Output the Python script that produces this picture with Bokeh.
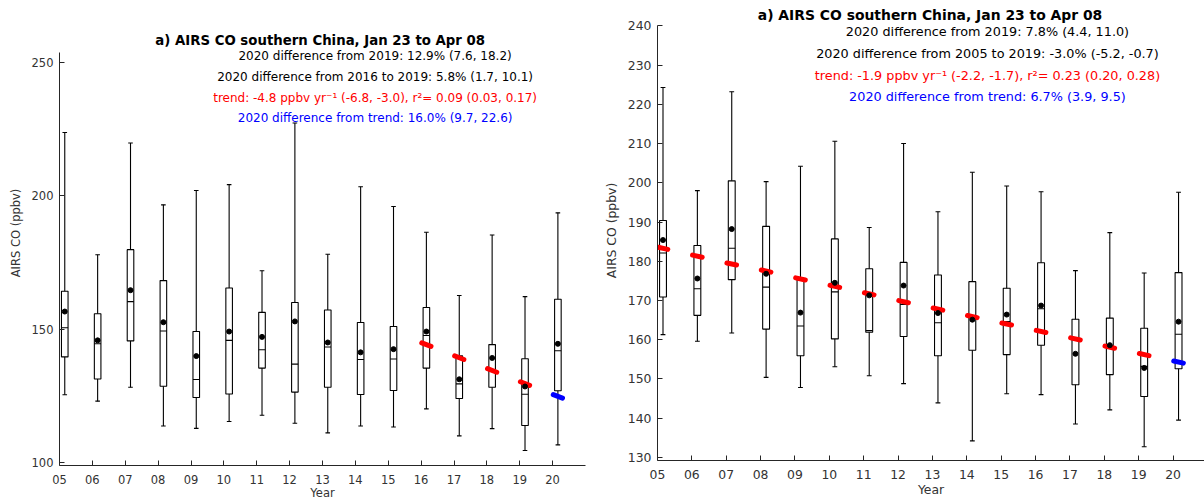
from bokeh.plotting import figure
from bokeh.models import Range1d, Label, FixedTicker, ColumnDataSource
from bokeh.embed import file_html
from bokeh.resources import INLINE

# ---------------- data ----------------
YEARS = [2005, 2006, 2007, 2008, 2009, 2010, 2011, 2012,
         2013, 2014, 2015, 2016, 2017, 2018, 2019, 2020]
TICK_LABELS = ["05", "06", "07", "08", "09", "10", "11", "12",
               "13", "14", "15", "16", "17", "18", "19", "20"]

# left panel (box statistics, ppbv)
L_HI = [223.7, 177.9, 219.8, 196.6, 202.0, 204.2, 171.9, 227.3, 178.1, 203.4, 196.0, 186.3, 162.6, 185.3, 162.2, 193.6]
L_Q3 = [164.2, 155.8, 179.8, 168.2, 149.1, 165.4, 156.3, 160.0, 157.2, 152.5, 151.0, 158.1, 140.0, 144.2, 138.9, 161.2]
L_MED = [150.5, 144.5, 160.3, 149.3, 131.1, 145.8, 142.3, 136.9, 143.3, 138.6, 138.8, 147.6, 129.5, 134.2, 125.6, 141.9]
L_Q1 = [139.6, 131.3, 145.6, 128.6, 124.4, 125.7, 135.4, 126.4, 128.2, 125.5, 127.0, 135.4, 124.0, 128.2, 113.9, 126.9]
L_LO = [125.4, 123.0, 128.2, 113.7, 112.8, 115.4, 117.7, 114.7, 111.1, 113.7, 113.3, 120.1, 110.0, 112.7, 104.5, 106.6]
L_MEAN = [156.6, 145.8, 164.6, 152.6, 139.9, 149.1, 147.1, 152.9, 145.0, 141.3, 142.5, 149.1, 131.2, 139.2, 128.5, 144.5]
L_TREND_YEARS = [2016, 2017, 2018, 2019]
L_TREND = [144.2, 139.3, 134.5, 129.6]
L_SLOPE = -4.8
L_TREND_2020 = 124.8
L_TEXTS = ["2020 difference from 2019: 12.9% (7.6, 18.2)",
           "2020 difference from 2016 to 2019: 5.8% (1.7, 10.1)",
           "trend: -4.8 ppbv yr\u207b\u00b9 (-6.8, -3.0), r\u00b2= 0.09 (0.03, 0.17)",
           "2020 difference from trend: 16.0% (9.7, 22.6)"]

# right panel
R_HI = [224.3, 198.0, 223.2, 200.3, 204.2, 210.6, 188.6, 210.0, 192.6, 202.7, 199.2, 197.7, 177.6, 187.3, 177.0, 197.6]
R_Q3 = [190.4, 184.0, 200.5, 188.9, 175.3, 185.7, 178.1, 179.7, 176.5, 174.8, 173.1, 179.6, 165.2, 165.5, 162.9, 177.1]
R_MED = [182.1, 173.0, 183.3, 173.4, 163.5, 172.2, 162.3, 169.0, 164.3, 165.6, 164.6, 167.9, 160.0, 158.0, 153.2, 161.4]
R_Q1 = [170.9, 166.2, 175.3, 162.7, 155.9, 160.2, 161.9, 160.8, 155.9, 157.3, 156.2, 158.6, 148.5, 151.1, 145.5, 152.6]
R_LO = [161.3, 159.6, 161.7, 150.4, 147.8, 153.1, 150.8, 148.8, 143.9, 134.2, 146.2, 146.0, 138.5, 142.1, 132.7, 139.5]
R_MEAN = [185.4, 175.6, 188.2, 176.8, 166.9, 174.5, 171.3, 173.8, 166.8, 165.1, 166.4, 168.7, 156.4, 158.6, 152.8, 164.6]
R_TREND_YEARS = [2005, 2006, 2007, 2008, 2009, 2010, 2011, 2012, 2013, 2014, 2015, 2016, 2017, 2018, 2019]
R_TREND = [183.3, 181.3, 179.3, 177.5, 175.5, 173.6, 171.7, 169.7, 167.8, 165.9, 164.0, 162.1, 160.2, 158.1, 156.2]
R_SLOPE = -1.9
R_TREND_2020 = 154.3
R_TEXTS = ["2020 difference from 2019: 7.8% (4.4, 11.0)",
           "2020 difference from 2005 to 2019: -3.0% (-5.2, -0.7)",
           "trend: -1.9 ppbv yr\u207b\u00b9 (-2.2, -1.7), r\u00b2= 0.23 (0.20, 0.28)",
           "2020 difference from trend: 6.7% (3.9, 9.5)"]

TITLE = "a) AIRS CO southern China, Jan 23  to Apr 08"
TEXT_COLORS = ["#000000", "#000000", "#ff0000", "#0000ff"]

FONT = "DejaVu Sans"
AX = "#262626"


def make_panel(left_px, width, height, bl, br, bb, axis_top_px, x_end, y_lo, y_axis_top, yticks,
               hi, q3, med, q1, lo, mean, tyears, tvals, slope, t2020,
               texts, text_px, title_px,
               tick_fs, title_fs, text_fs, xstand, xlab_stand):
    # frame runs from the canvas top down to the x axis; the y axis line is bounded
    frame_bottom = height - bb
    ppu = (frame_bottom - axis_top_px) / (y_axis_top - y_lo)
    y_hi = y_axis_top + axis_top_px / ppu
    p = figure(width=width, height=height, output_backend="svg", toolbar_location=None,
               title=None,
               x_range=Range1d(2005, x_end), y_range=Range1d(y_lo, y_hi),
               min_border_left=bl, min_border_right=br, min_border_top=0, min_border_bottom=bb)
    p.styles = {"position": "absolute", "left": "%dpx" % left_px, "top": "0px"}
    p.outline_line_color = None
    p.grid.visible = False

    off = 0.16
    bw = 0.10
    cw = 0.07
    xc = [y + off for y in YEARS]
    src = ColumnDataSource(dict(x=xc, hi=hi, q3=q3, med=med, q1=q1, lo=lo, mean=mean,
                                xl=[x - bw for x in xc], xr=[x + bw for x in xc],
                                cl=[x - cw for x in xc], cr=[x + cw for x in xc]))
    lw = 1.1
    p.segment(x0="x", y0="q3", x1="x", y1="hi", source=src, line_color="black", line_width=lw)
    p.segment(x0="x", y0="lo", x1="x", y1="q1", source=src, line_color="black", line_width=lw)
    p.segment(x0="cl", y0="hi", x1="cr", y1="hi", source=src, line_color="black", line_width=lw)
    p.segment(x0="cl", y0="lo", x1="cr", y1="lo", source=src, line_color="black", line_width=lw)
    p.quad(left="xl", right="xr", bottom="q1", top="q3", source=src,
           fill_color=None, line_color="black", line_width=lw)
    p.segment(x0="xl", y0="med", x1="xr", y1="med", source=src, line_color="black", line_width=lw)

    half = 0.14
    tx0 = [y + off - half for y in tyears]
    tx1 = [y + off + half for y in tyears]
    ty0 = [v - slope * half for v in tvals]
    ty1 = [v + slope * half for v in tvals]
    p.segment(x0=tx0, y0=ty0, x1=tx1, y1=ty1, line_color="#ff0000", line_width=5, line_cap="round")
    p.segment(x0=[2020 + off - half], y0=[t2020 - slope * half], x1=[2020 + off + half],
              y1=[t2020 + slope * half], line_color="#0000ff", line_width=5, line_cap="round")

    p.scatter(x="x", y="mean", source=src, size=5, color="black", marker="circle")

    # axes
    for ax in (p.xaxis[0], p.yaxis[0]):
        ax.axis_line_color = AX
        ax.axis_line_width = 1
        ax.major_tick_line_color = AX
        ax.major_tick_in = 5
        ax.major_tick_out = 0
        ax.minor_tick_line_color = None
        ax.major_label_text_font = FONT
        ax.major_label_text_font_size = tick_fs
        ax.major_label_text_color = "#333333"
        ax.axis_label_text_font = FONT
        ax.axis_label_text_font_size = tick_fs
        ax.axis_label_text_font_style = "normal"
        ax.axis_label_text_color = "#333333"
    p.xaxis.ticker = FixedTicker(ticks=YEARS)
    p.xaxis.major_label_overrides = {y: t for y, t in zip(YEARS, TICK_LABELS)}
    p.xaxis.major_label_standoff = xstand
    p.xaxis.axis_label = "Year"
    p.xaxis.axis_label_standoff = xlab_stand
    p.yaxis.ticker = FixedTicker(ticks=yticks)
    p.yaxis.bounds = (y_lo, y_axis_top)
    p.yaxis.major_label_standoff = 6
    p.yaxis.axis_label = "AIRS CO (ppbv)"
    p.yaxis.axis_label_standoff = 6

    # title and annotation texts (text_px: pixels from the canvas top)
    p.add_layout(Label(x=2013, y=y_hi - title_px / ppu, text=TITLE, text_align="center",
                       text_baseline="alphabetic", text_font=FONT, text_font_size=title_fs,
                       text_font_style="bold", text_color="black"))
    for t, c, o in zip(texts, TEXT_COLORS, text_px):
        p.add_layout(Label(x=2014.6, y=y_hi - o / ppu, text=t, text_align="center",
                           text_baseline="alphabetic", text_font=FONT, text_font_size=text_fs,
                           text_color=c))
    return p


p1 = make_panel(0, 600, 502, 59, 15, 35, 52, 2021.0, 98.88, 253.8, [100, 150, 200, 250],
                L_HI, L_Q3, L_MED, L_Q1, L_LO, L_MEAN, L_TREND_YEARS, L_TREND, L_SLOPE, L_TREND_2020,
                L_TEXTS, [56, 77, 97.5, 118.5], 40.5, "11.5px", "13.3px", "12px", 9, -1)
p2 = make_panel(600, 604, 502, 57, 0, 42, 25, 2020.915, 129.2, 240.1,
                [130, 140, 150, 160, 170, 180, 190, 200, 210, 220, 230, 240],
                R_HI, R_Q3, R_MED, R_Q1, R_LO, R_MEAN, R_TREND_YEARS, R_TREND, R_SLOPE, R_TREND_2020,
                R_TEXTS, [30.5, 52.8, 74.8, 95.5], 14.5, "12.4px", "13.9px", "12.8px", 9, 0)

open("out.html", "w").write(file_html([p1, p2], INLINE))
